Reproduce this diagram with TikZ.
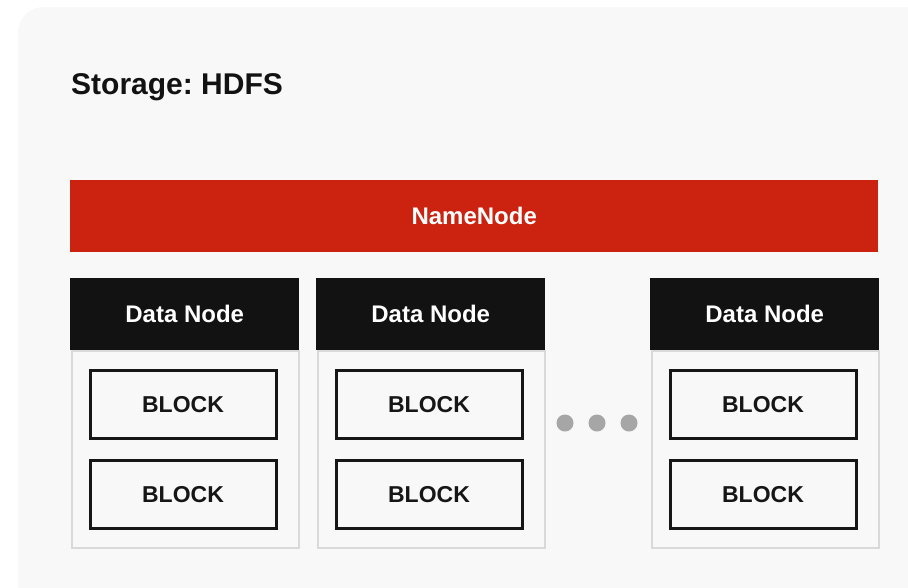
\documentclass[tikz,border=0pt]{standalone}
\usepackage{fontspec}
\setmainfont{Liberation Sans}
\frenchspacing
\definecolor{panelgray}{HTML}{F8F8F8}
\definecolor{namered}{HTML}{CC2210}
\definecolor{headblack}{HTML}{121212}
\definecolor{bodyline}{HTML}{D9D9D9}
\definecolor{blockline}{HTML}{161616}
\definecolor{dotgray}{HTML}{A6A6A6}
\tikzset{
  namebar/.style={fill=namered, text=white, font=\bfseries\fontsize{24}{24}\selectfont, minimum width=808pt, minimum height=72pt, inner sep=0pt, anchor=north west},
  headbox/.style={fill=headblack, text=white, font=\bfseries\fontsize{24}{24}\selectfont, minimum width=229pt, minimum height=72pt, inner sep=0pt, anchor=north west},
  bodybox/.style={draw=bodyline, line width=2pt, fill=panelgray, minimum width=227pt, minimum height=197pt, inner sep=0pt, anchor=north west},
  blockbox/.style={draw=blockline, line width=3pt, text=blockline, font=\bfseries\fontsize{23}{23}\selectfont, minimum width=186pt, minimum height=68pt, inner sep=0pt},
  moredot/.style={circle, fill=dotgray, minimum size=17pt, inner sep=0pt}
}
\begin{document}
\begin{tikzpicture}[x=1pt,y=-1pt]
% Page size and white backdrop
\useasboundingbox (0,0) rectangle (908,587);
\clip (0,0) rectangle (908,587);
\fill[white] (0,0) rectangle (908,587);
% Light panel, running off the right and bottom edges
\fill[panelgray, rounded corners=26pt] (18,7) rectangle (960,640);
% Title
\node[anchor=base west, inner sep=0pt, text=headblack, font=\bfseries\fontsize{30}{30}\selectfont] (title) at (71,94) {Storage: HDFS};
% Name node bar
\node[namebar] (namenode) at (70,180) {NameNode};
% Data node columns with two blocks each
\foreach \col/\xo in {1/70, 2/316, 3/650} {
  \node[bodybox] (body\col) at (\xo+1,350) {};
  \node[headbox] (head\col) at (\xo,278) {Data Node};
  \node[blockbox] (block\col a) at (\xo+113,404.5) {BLOCK};
  \node[blockbox] (block\col b) at (\xo+113,494.5) {BLOCK};
}
% Dots between the second and third column
\node[moredot] (dot1) at (565,423) {};
\node[moredot] (dot2) at (597,423) {};
\node[moredot] (dot3) at (629,423) {};
\end{tikzpicture}
\end{document}
